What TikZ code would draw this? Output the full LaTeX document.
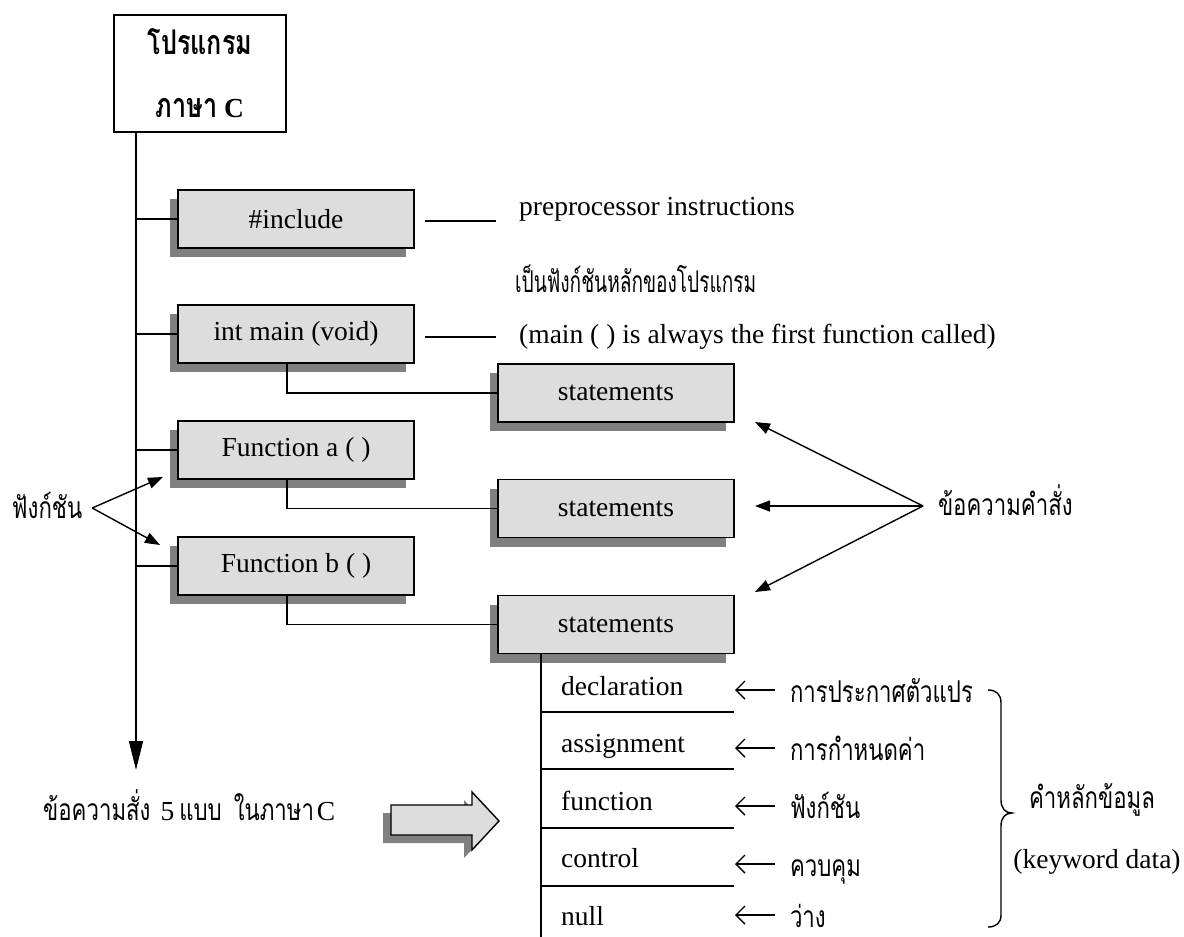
\documentclass[tikz,border=0pt]{standalone}
\usepackage{fontspec}
\setmainfont{Liberation Serif}
\newfontfamily\thaifont[Script=Thai,FakeStretch=0.74]{Loma}
\usetikzlibrary{arrows.meta,shadows}
\definecolor{boxgray}{HTML}{DDDDDD}
\definecolor{shadowgray}{HTML}{808080}
\newcommand\thx[1]{{\thaifont\fontsize{30}{34}\selectfont #1}}
\newcommand\thtitle[1]{{\thaifont\bfseries\fontsize{34}{40}\selectfont #1}}
\begin{document}
\begin{tikzpicture}[x=1pt,y=-1pt,
  every node/.style={inner sep=0pt, font=\fontsize{27.5}{32}\selectfont},
  ln/.style={line width=1.4pt},
  box/.style={draw, line width=1.4pt, fill=boxgray, minimum width=236pt, minimum height=58pt,
    drop shadow={shadow xshift=-8pt, shadow yshift=-9pt, fill=shadowgray, opacity=1}},
  tri/.style={ln, -{Triangle[length=15pt,width=11pt]}},
  barb/.style={ln, -{Straight Barb[length=9pt,width=18pt]}},
  thlabel/.style={anchor=base west, text height=24pt, text depth=0pt},
]
\useasboundingbox (0,0) rectangle (1184,937);
\fill[white] (0,0) rectangle (1184,937);

% title
\node[draw, line width=1.4pt, fill=white, minimum width=172pt, minimum height=117pt, align=center,
  font=\fontsize{27.5}{63}\selectfont] (title) at (200,73.5)
  {\thtitle{โปรแกรม}\\ \thtitle{ภาษา} \textbf{C}};

% boxes
\node[box] (inc) at (296,219) {\#include};
\node[box] (main) at (296,334) {int main (void)};
\node[box] (fa) at (296,450) {Function a ( )};
\node[box] (fb) at (296,566) {Function b ( )};
\node[box] (st1) at (616,393) {statements};
\node[box] (st2) at (616,508.5) {statements};
\node[box] (st3) at (616,624.5) {statements};

% trunk
\coordinate (trunkend) at (136,770);
\draw[ln, -{Triangle[length=29pt,width=14pt]}] (title.south -| trunkend) -- (trunkend);
\foreach \b in {inc,main,fa,fb}
  \draw[ln] (\b.west -| trunkend) -- (\b.west);

% drops to statements
\coordinate (drop) at (287,0);
\draw[ln] (main.south -| drop) |- (st1.west);
\draw[ln] (fa.south -| drop) |- (st2.west);
\draw[ln] (fb.south -| drop) |- (st3.west);

% side notes
\node[anchor=base west] (pp) at (519,215) {preprocessor instructions};
\node[anchor=base west] (mf) at (519,343) {(main ( ) is always the first function called)};
\node[anchor=base west] (mt) at (515,292) {\scalebox{0.86}[1]{\thx{เป็นฟังก์ชันหลักของโปรแกรม}}};
\coordinate (dash1) at (425,221);
\coordinate (dash2) at (425,337);
\draw[ln] (dash1) -- ([xshift=-23pt]dash1 -| pp.west);
\draw[ln] (dash2) -- ([xshift=-23pt]dash2 -| mf.west);

% statements label
\node[anchor=base west, outer xsep=15pt, text height=18pt, text depth=0pt] (cmd) at (923,515) {\thx{ข้อความคำสั่ง}};
\coordinate (t1) at (755,422);
\coordinate (t2) at (755,506);
\coordinate (t3) at (755,592);
\draw[tri] (cmd.west) -- (t1);
\draw[tri] (cmd.west) -- (t2);
\draw[tri] (cmd.west) -- (t3);

% function label
\node[anchor=base west, outer xsep=10pt, text height=20pt, text depth=0pt] (fn) at (2,518) {\thx{ฟังก์ชัน}};
\coordinate (f1) at (163,477);
\coordinate (f2) at (160,545);
\draw[tri] (fn.east) -- (f1);
\draw[tri] (fn.east) -- (f2);

% list
\coordinate (lx) at (541,937);
\draw[ln] (st3.south -| lx) -- (lx);
\foreach \y/\n in {712/d1,769/d2,828/d3,886/d4} {
  \coordinate (\n) at (734,\y);
  \draw[ln] (\n -| lx) -- (\n);
}
\node[anchor=base west] (k1) at (561,695) {declaration};
\node[anchor=base west] (k2) at (561,752) {assignment};
\node[anchor=base west] (k3) at (561,810) {function};
\node[anchor=base west] (k4) at (561,867) {control};
\node[anchor=base west] (k5) at (561,925) {null};

\coordinate (ax) at (735,0);
\node[thlabel, outer xsep=15pt] (l1) at (775,702) {\thx{การประกาศตัวแปร}};
\node[thlabel, outer xsep=15pt] (l2) at (775,760) {\thx{การกำหนดค่า}};
\node[thlabel, outer xsep=15pt] (l3) at (775,818) {\thx{ฟังก์ชัน}};
\node[thlabel, outer xsep=15pt] (l4) at (775,876) {\thx{ควบคุม}};
\node[thlabel, outer xsep=15pt] (l5) at (775,927) {\thx{ว่าง}};
\foreach \l in {l1,l2,l3,l4,l5}
  \draw[barb] (\l.west) -- (\l.west -| ax);

% brace
\draw[ln] (988,690) .. controls (996,690) and (1001,694) .. (1001,703) -- (1001,800)
  .. controls (1001,808) and (1005,813) .. (1012,813)
  .. controls (1005,813) and (1001,818) .. (1001,826) -- (1001,915)
  .. controls (1001,923) and (996,927) .. (988,927);
\node (kw1) at (1092,800) {\thx{คำหลักข้อมูล}};
\node (kw2) at (1097,862) {(keyword data)};

% bottom label and block arrow
\node[anchor=base west] (five) at (43,820) {\thx{ข้อความสั่ง}\hspace{10pt}5\hspace{5pt}\thx{แบบ}\hspace{12pt}\thx{ในภาษา}\hspace{3pt}C};
\fill[shadowgray, shift={(-8,8)}] (391,805) -- (472,805) -- (472,792) -- (499,821) -- (472,850) -- (472,835) -- (391,835) -- cycle;
\filldraw[fill=boxgray, draw=black, ln, line join=miter] (391,805) -- (472,805) -- (472,792) -- (499,821) -- (472,850) -- (472,835) -- (391,835) -- cycle;
\end{tikzpicture}
\end{document}
